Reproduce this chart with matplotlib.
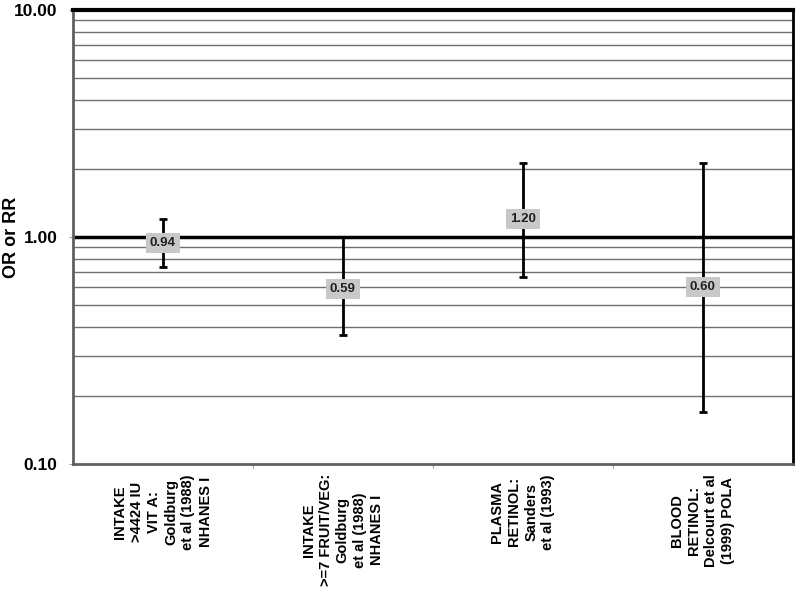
import numpy as np
import matplotlib.pyplot as plt

plt.rcParams['font.family'] = ['Liberation Sans', 'DejaVu Sans']

labels = ['INTAKE\n>4424 IU\nVIT A:\nGoldburg\net al (1988)\nNHANES I',
          'INTAKE\n>=7 FRUIT/VEG:\nGoldburg\net al (1988)\nNHANES I',
          'PLASMA\nRETINOL:\nSanders\net al (1993)',
          'BLOOD\nRETINOL:\nDelcourt et al\n(1999) POLA']
estimates = [0.94, 0.59, 1.20, 0.60]
lower = [0.74, 0.37, 0.67, 0.17]
upper = [1.20, 1.00, 2.12, 2.12]

fig = plt.figure(figsize=(8, 5.89), dpi=100)
ax = fig.add_axes([0.091, 0.212, 0.9, 0.771])

ax.set_yscale('log')
ax.set_ylim(0.1, 10)
ax.set_xlim(0, len(labels))

# gridlines at every minor step
grid_vals = [v * d for d in (0.1, 1) for v in range(2, 10)]
for g in grid_vals:
    ax.axhline(g, color='#707070', lw=1, zorder=1)
ax.axhline(1.0, color='black', lw=2.5, zorder=2)

x = np.arange(len(labels)) + 0.5
yerr = [np.array(estimates) - np.array(lower), np.array(upper) - np.array(estimates)]
ax.errorbar(x, estimates, yerr=yerr, fmt='none', ecolor='black', elinewidth=2,
            capsize=3, capthick=2, zorder=3)
for xi, e in zip(x, estimates):
    ax.text(xi, e, '%.2f' % e, ha='center', va='center', fontsize=9.5, fontweight='bold',
            color='#202020', zorder=4,
            bbox=dict(boxstyle='square,pad=0.3', fc='#c8c8c8', ec='none'))

ax.set_yticks([0.1, 1, 10])
ax.set_yticklabels(['0.10', '1.00', '10.00'], fontsize=12.5, fontweight='bold')
ax.yaxis.set_minor_locator(plt.NullLocator())
ax.set_ylabel('OR or RR', fontsize=13, fontweight='bold')
ax.yaxis.set_label_coords(-0.074, 0.5)

ax.set_xticks(np.arange(1, len(labels)))
ax.set_xticklabels([])
ax.tick_params(axis='x', length=3, color='#a0a0a0')
ax.tick_params(axis='y', length=3, color='#a0a0a0', pad=8)
for xi, lab in zip(x, labels):
    ax.text(xi, -0.022, lab, transform=ax.get_xaxis_transform(), rotation=90,
            ha='center', va='top', multialignment='center', fontsize=10.5,
            fontweight='bold', linespacing=1.28)

ax.spines['left'].set_color('#606060')
ax.spines['left'].set_linewidth(2)
ax.spines['bottom'].set_color('#606060')
ax.spines['bottom'].set_linewidth(2)
ax.spines['top'].set_color('black')
ax.spines['top'].set_linewidth(3)
ax.spines['right'].set_color('black')
ax.spines['right'].set_linewidth(2)

plt.savefig('out.png', dpi=100)
